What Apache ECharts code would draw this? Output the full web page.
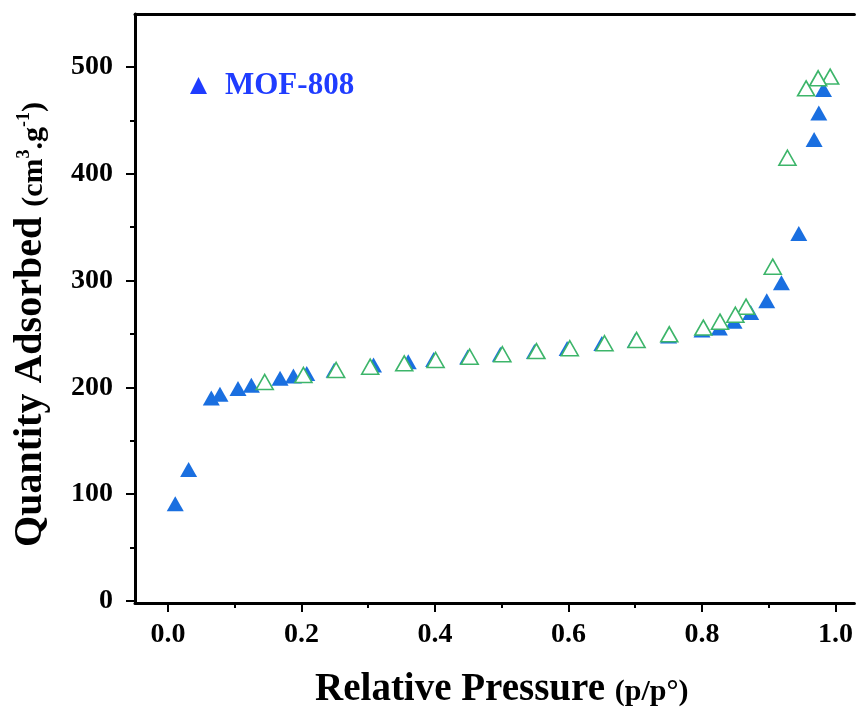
<!DOCTYPE html>
<html>
<head>
<meta charset="utf-8">
<script src="https://cdn.jsdelivr.net/npm/echarts@6/dist/echarts.min.js"></script>
<style>html,body{margin:0;padding:0;background:#fff;}#chart{width:856px;height:715px;}</style>
</head>
<body>
<div id="chart"></div>
<script>
// Adsorption branch (filled blue triangles)
const adsX = [0.011,0.031,0.065,0.078,0.105,0.125,0.168,0.188,0.208,0.249,0.308,0.360,0.398,0.449,0.498,0.549,0.598,0.650,0.700,0.750,0.800,0.826,0.848,0.873,0.897,0.919,0.945,0.968,0.975,0.982];
const adsY = [91,123,190,193.5,199,202,208.5,210.7,213,216,221,224,226,228.5,231,233.5,236.5,241,244,248,253.7,255.5,262,270,281,298,344,432,457,479];
// Desorption branch (hollow green triangles)
const desX = [0.992,0.974,0.956,0.928,0.906,0.866,0.850,0.827,0.802,0.751,0.702,0.654,0.602,0.552,0.501,0.452,0.401,0.354,0.303,0.252,0.203,0.145];
const desY = [491,489.4,480,415,313,275.6,268,261.5,256,249.7,244.4,241.3,236.6,234,231,228.7,225.6,222.5,219.4,216.3,211.6,205];
// Ticks
const xTicks = [0,0.2,0.4,0.6,0.8,1.0];
const xMinor = [0.1,0.3,0.5,0.7,0.9];
const yTicks = [0,100,200,300,400,500];
const yMinor = [50,150,250,350,450];
const seriesName = 'MOF-808';

const X_MIN = -0.0493, X_MAX = 1.0284;
const Y_MIN = -1.9, Y_MAX = 549.6;
const FONT = '"Liberation Serif","Times New Roman",serif';

const ads = adsX.map((x,i)=>[x,adsY[i]]);
const des = desX.map((x,i)=>[x,desY[i]]);

const chart = echarts.init(document.getElementById('chart'));
const axisLineStyle = {color:'#000', width:3};
const tickStyle = {color:'#000', width:2};
chart.setOption({
  animation:false,
  backgroundColor:'#fff',
  grid:{left:135, right:0, top:14, bottom:112},
  legend:{
    data:[{name:seriesName, itemStyle:{color:'#1f3cff'}}],
    icon:'triangle', itemWidth:17, itemHeight:17,
    left:185, top:65,
    textStyle:{color:'#1f3cff', fontFamily:FONT, fontWeight:'bold', fontSize:31, lineHeight:31, padding:[0,0,0,13]}
  },
  xAxis:[
    {type:'value', min:X_MIN, max:X_MAX, position:'bottom',
     axisLine:{show:true, onZero:false, lineStyle:axisLineStyle},
     axisTick:{show:true, customValues:xTicks, length:9, lineStyle:tickStyle},
     axisLabel:{customValues:xTicks, formatter:v=>Number(v).toFixed(1), margin:18, color:'#000', fontFamily:FONT, fontWeight:'bold', fontSize:28},
     splitLine:{show:false},
     name:'{a|Relative Pressure }{b|(p/p°)}', nameLocation:'middle', nameGap:64,
     nameTextStyle:{padding:[0,0,0,14], rich:{
       a:{fontFamily:FONT, fontWeight:'bold', fontSize:39, color:'#000', lineHeight:42, verticalAlign:'bottom'},
       b:{fontFamily:FONT, fontWeight:'bold', fontSize:30, color:'#000', lineHeight:36, verticalAlign:'bottom', padding:[0,0,2,0]}
     }}
    },
    {type:'value', min:X_MIN, max:X_MAX, position:'bottom',
     axisLine:{show:false, onZero:false},
     axisTick:{show:true, customValues:xMinor, length:5, lineStyle:tickStyle},
     axisLabel:{show:false}, splitLine:{show:false}},
    {type:'value', min:X_MIN, max:X_MAX, position:'top',
     axisLine:{show:true, onZero:false, lineStyle:axisLineStyle},
     axisTick:{show:false}, axisLabel:{show:false}, splitLine:{show:false}}
  ],
  yAxis:[
    {type:'value', min:Y_MIN, max:Y_MAX, position:'left',
     axisLine:{show:true, onZero:false, lineStyle:axisLineStyle},
     axisTick:{show:true, customValues:yTicks, length:9, lineStyle:tickStyle},
     axisLabel:{customValues:yTicks, margin:22, color:'#000', fontFamily:FONT, fontWeight:'bold', fontSize:28},
     splitLine:{show:false},
     name:'{a|Quantity Adsorbed }{b|(cm}{c|3}{b|.g}{c|-1}{b|)}', nameLocation:'middle', nameGap:84, nameRotate:90,
     nameTextStyle:{padding:[0,32,0,0], rich:{
       a:{fontFamily:FONT, fontWeight:'bold', fontSize:40, color:'#000', lineHeight:44, verticalAlign:'bottom'},
       b:{fontFamily:FONT, fontWeight:'bold', fontSize:30, color:'#000', lineHeight:36, verticalAlign:'bottom', padding:[0,0,2,0]},
       c:{fontFamily:FONT, fontWeight:'bold', fontSize:18, color:'#000', lineHeight:18, verticalAlign:'bottom', padding:[0,0,18,0]}
     }}
    },
    {type:'value', min:Y_MIN, max:Y_MAX, position:'left',
     axisLine:{show:false, onZero:false},
     axisTick:{show:true, customValues:yMinor, length:5, lineStyle:tickStyle},
     axisLabel:{show:false}, splitLine:{show:false}}
  ],
  series:[
    {name:seriesName, type:'scatter', xAxisIndex:0, yAxisIndex:0, data:ads,
     symbol:'triangle', symbolSize:[17,15],
     itemStyle:{color:'#1a6fe0', opacity:1}},
    {name:seriesName+' desorption', type:'scatter', xAxisIndex:0, yAxisIndex:0, data:des,
     symbol:'triangle', symbolSize:[17,15],
     itemStyle:{color:'#ffffff', borderColor:'#3db56a', borderWidth:1.6, opacity:1}}
  ]
});
</script>
</body>
</html>
